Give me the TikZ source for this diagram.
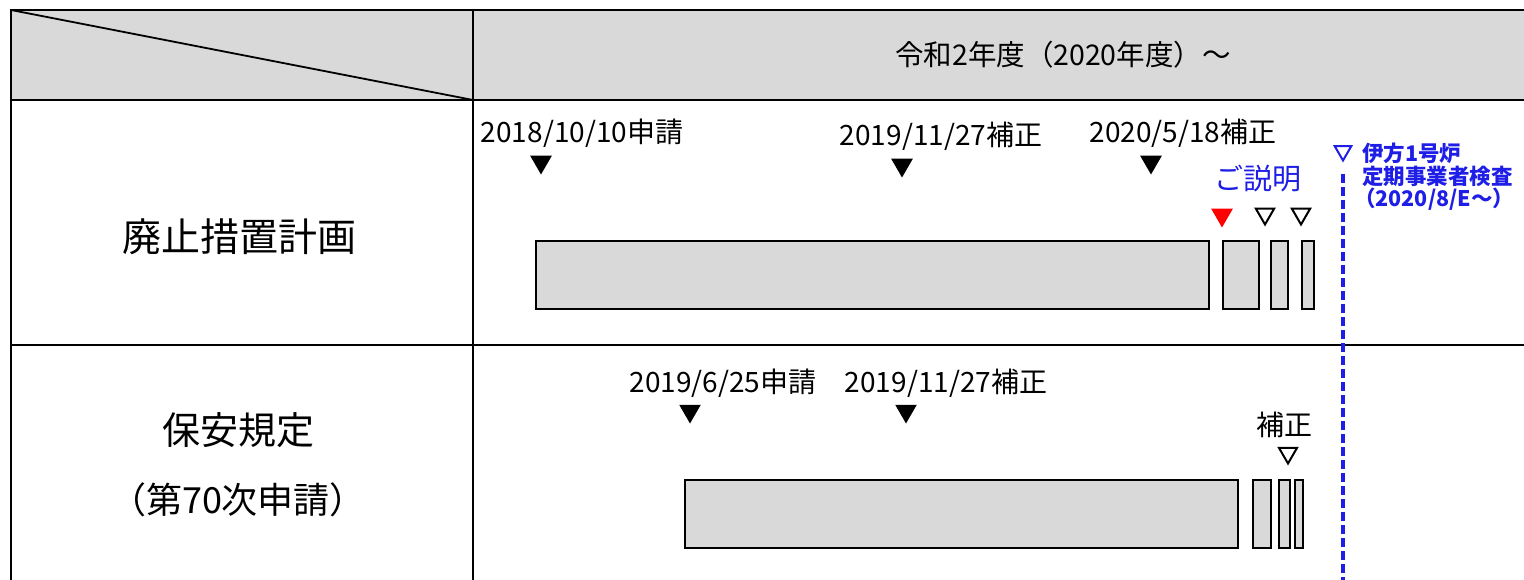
\documentclass[tikz,border=0pt]{standalone}
\usepackage{fontspec}
\setmainfont{Noto Sans CJK JP}
\usetikzlibrary{shapes.geometric}
\definecolor{cellgray}{RGB}{217,217,217}
\definecolor{myblue}{RGB}{30,30,230}
\begin{document}
\begin{tikzpicture}[x=1pt,y=-1pt,
  grid/.style={line width=2.4pt,black},
  bar/.style={draw=black,fill=cellgray,line width=1.8pt,inner sep=0pt,rectangle},
  filltri/.style={regular polygon,regular polygon sides=3,shape border rotate=180,fill=black,inner sep=0pt,minimum size=25pt},
  redtri/.style={filltri,fill=red},
  opentri/.style={regular polygon,regular polygon sides=3,shape border rotate=180,draw=black,line width=2pt,inner sep=0pt,minimum size=21pt},
  bluetri/.style={opentri,draw=myblue},
  datetxt/.style={inner sep=0pt,font=\fontsize{28}{32}\selectfont},
  rowtxt/.style={inner sep=0pt,font=\fontsize{39}{44}\selectfont},
  bluetxt/.style={inner sep=0pt,anchor=west,text=myblue,font=\fontsize{21.5}{24}\selectfont\bfseries}
]
\useasboundingbox (0,0) rectangle (1524,580);
% header band
\fill[cellgray] (11,10) rectangle (1524,100);
\coordinate (tl) at (11,10);
\coordinate (hb) at (473,100);
\draw[grid] (1524,10) -- (11,10) -- (11,580);
\draw[grid] (11,100) -- (1524,100);
\draw[grid] (11,345) -- (1524,345);
\draw[grid] (473,10) -- (473,580);
\draw[line width=1.8pt] (tl) -- (hb);

\node[inner sep=0pt,font=\fontsize{28.5}{32}\selectfont] (hdr) at (1063,55) {令和2年度（2020年度）～};

% row labels
\node[rowtxt] (r1) at (239,237) {廃止措置計画};
\node[rowtxt,font=\fontsize{38}{44}\selectfont] (r2a) at (238,430) {保安規定};
\node[rowtxt,font=\fontsize{36}{40}\selectfont] (r2b) at (238,500) {（第70次申請）};

% row 1
\node[datetxt] (d1) at (582,133) {2018/10/10申請};
\node[datetxt] (d2) at (941,136) {2019/11/27補正};
\node[datetxt] (d3) at (1183,133) {2020/5/18補正};
\node[filltri] (t1) at (541,162) {};
\node[filltri] (t2) at (902,165) {};
\node[filltri] (t3) at (1151,162) {};
\node[inner sep=0pt,text=myblue,font=\fontsize{29}{32}\selectfont] (exp) at (1258,179) {ご説明};
\node[redtri] (t4) at (1222,215) {};
\node[opentri] (t5) at (1265,214) {};
\node[opentri] (t6) at (1301,214) {};
\node[bar,minimum width=673pt,minimum height=68pt] (b1) at (872.5,275) {};
\node[bar,minimum width=36pt,minimum height=68pt] (b2) at (1241,275) {};
\node[bar,minimum width=17pt,minimum height=68pt] (b3) at (1279.5,275) {};
\node[bar,minimum width=12pt,minimum height=68pt] (b4) at (1308,275) {};

% row 2
\node[datetxt] (e1) at (723,383) {2019/6/25申請};
\node[datetxt] (e2) at (946,383) {2019/11/27補正};
\node[datetxt] (e3) at (1284,425) {補正};
\node[filltri] (s1) at (690,411) {};
\node[filltri] (s2) at (906,411) {};
\node[opentri] (s3) at (1288,453) {};
\node[bar,minimum width=553pt,minimum height=68pt] (c1) at (961.5,514) {};
\node[bar,minimum width=18pt,minimum height=68pt] (c2) at (1262,514) {};
\node[bar,minimum width=11pt,minimum height=68pt] (c3) at (1284.5,514) {};
\node[bar,minimum width=8pt,minimum height=68pt] (c4) at (1299,514) {};

% inspection marker
\node[bluetri,minimum size=19pt] (bt) at (1343,151) {};
\node[bluetxt] (bl1) at (1362,153) {伊方1号炉};
\node[bluetxt] (bl2) at (1362,176) {定期事業者検査};
\node[bluetxt] (bl3) at (1354,199) {（2020/8/E～）};
\coordinate (dtop) at (1343,174);
\coordinate (dbot) at (1343,580);
\draw[myblue,line width=3.4pt,dash pattern=on 9pt off 4pt] (dtop) -- (dbot);
\end{tikzpicture}
\end{document}
